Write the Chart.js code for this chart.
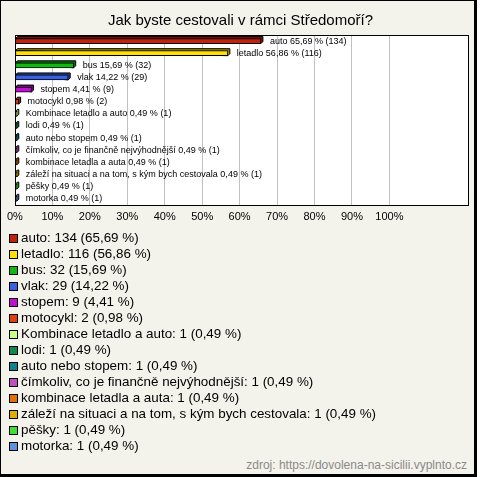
<!DOCTYPE html>
<html>
<head>
<meta charset="utf-8">
<script src="https://cdn.jsdelivr.net/npm/chart.js@4/dist/chart.umd.min.js"></script>
<style>
  html, body { margin: 0; padding: 0; background: #fff; }
  #frame {
    position: relative;
    width: 473px; height: 473px;
    background: #f3f2eb;
    border-left: 1px solid #000; border-top: 1px solid #000;
    border-right: 3px solid #000; border-bottom: 3px solid #000;
    font-family: "Liberation Sans", Arial, sans-serif;
  }
  #chartBox { position: absolute; left: 0; top: 0; width: 473px; height: 235px; }
  #legend { position: absolute; left: 8px; top: 229px; }
  .item { height: 16px; line-height: 16px; font-size: 13.4px; color: #000; white-space: nowrap; }
  .sw { display: inline-block; width: 7px; height: 7px; border: 1px solid #000; margin-right: 3px; vertical-align: -1px; }
  #source { position: absolute; right: 7px; top: 457px; font-size: 12px; color: #8a8a8a; }
</style>
</head>
<body>
<div id="frame">
  <div id="chartBox"><canvas id="barChart"></canvas></div>
  <div id="legend"></div>
  <div id="source">zdroj: https://dovolena-na-sicilii.vyplnto.cz</div>
</div>
<script>
// Data
const categories = ['auto', 'letadlo', 'bus', 'vlak', 'stopem', 'motocykl', 'Kombinace letadlo a auto', 'lodi',
    'auto nebo stopem', 'čímkoliv, co je finančně nejvýhodnější', 'kombinace letadla a auta',
    'záleží na situaci a na tom, s kým bych cestovala', 'pěšky', 'motorka'];
const counts = [134, 116, 32, 29, 9, 2, 1, 1, 1, 1, 1, 1, 1, 1];
const percents = [65.69, 56.86, 15.69, 14.22, 4.41, 0.98, 0.49, 0.49, 0.49, 0.49, 0.49, 0.49, 0.49, 0.49];
const tickValues = [0, 10, 20, 30, 40, 50, 60, 70, 80, 90, 100];

const colors = ['#c4200e', '#ffe000', '#10b810', '#3a5fe0', '#c010d0', '#e04010', '#ccff88', '#108850',
    '#10808f', '#c050c0', '#e07000', '#e0b000', '#40e030', '#6090e0'];

const fmt = v => v.toFixed(2).replace('.', ',');

function darker(hex) {
    const n = parseInt(hex.slice(1), 16);
    const r = Math.round(((n >> 16) & 255) * 0.6), g = Math.round(((n >> 8) & 255) * 0.6), b = Math.round((n & 255) * 0.6);
    return `rgb(${r},${g},${b})`;
}

// white plot background + border
const plotFrame = {
    id: 'plotFrame',
    beforeDraw(chart) {
        const { ctx, chartArea: a } = chart;
        ctx.save();
        ctx.fillStyle = '#fff';
        ctx.fillRect(a.left, a.top, a.right - a.left, a.bottom - a.top);
        ctx.restore();
    },
    afterDraw(chart) {
        const { ctx, chartArea: a } = chart;
        ctx.save();
        ctx.strokeStyle = '#000';
        ctx.lineWidth = 1;
        ctx.strokeRect(Math.round(a.left) + 0.5, Math.round(a.top) + 0.5, Math.round(a.right - a.left), Math.round(a.bottom - a.top));
        ctx.restore();
    }
};

// fake 3D rim behind the bars, and value labels after them
const bar3d = {
    id: 'bar3d',
    beforeDatasetsDraw(chart) {
        const { ctx } = chart;
        const d = 2;
        ctx.save();
        chart.getDatasetMeta(0).data.forEach((bar, i) => {
            const x0 = bar.base, x1 = bar.x, top = bar.y - bar.height / 2, bot = bar.y + bar.height / 2;
            ctx.beginPath();
            ctx.moveTo(x0, top);
            ctx.lineTo(x0 + d, top - d);
            ctx.lineTo(x1 + d, top - d);
            ctx.lineTo(x1 + d, bot - d);
            ctx.lineTo(x1, bot);
            ctx.closePath();
            ctx.fillStyle = darker(colors[i]);
            ctx.fill();
            ctx.strokeStyle = '#000';
            ctx.lineWidth = 1;
            ctx.stroke();
        });
        ctx.restore();
    },
    afterDatasetsDraw(chart) {
        const { ctx } = chart;
        ctx.save();
        ctx.font = '9px "Liberation Sans", Arial, sans-serif';
        ctx.fillStyle = '#000';
        ctx.textBaseline = 'middle';
        chart.getDatasetMeta(0).data.forEach((bar, i) => {
            ctx.fillText(`${categories[i]} ${fmt(percents[i])} % (${counts[i]})`, bar.x + 9, bar.y);
        });
        ctx.restore();
    }
};

new Chart(document.getElementById('barChart'), {
    type: 'bar',
    data: {
        labels: categories,
        datasets: [{
            data: percents,
            backgroundColor: colors,
            borderColor: '#000',
            borderWidth: 1,
            barThickness: 5,
            borderSkipped: false
        }]
    },
    options: {
        indexAxis: 'y',
        responsive: true,
        maintainAspectRatio: false,
        animation: false,
        layout: { padding: { left: 10, right: 4, top: 0, bottom: 6 } },
        plugins: {
            legend: { display: false },
            tooltip: { enabled: false },
            title: {
                display: true,
                text: 'Jak byste cestovali v rámci Středomoří?',
                color: '#000',
                font: { family: '"Liberation Sans", Arial, sans-serif', size: 15, weight: 'normal' },
                padding: { top: 11, bottom: 5 }
            }
        },
        scales: {
            x: {
                min: 0,
                max: 121,
                afterBuildTicks: axis => { axis.ticks = tickValues.map(v => ({ value: v })).concat([{ value: 121 }]); },
                ticks: {
                    padding: 6,
                    maxRotation: 0,
                    color: '#000',
                    font: { family: '"Liberation Sans", Arial, sans-serif', size: 11 },
                    callback: v => (v <= 100 ? v + '%' : '')
                },
                grid: {
                    drawTicks: false,
                    color: c => (c.tick && c.tick.value > 0 && c.tick.value <= 100 ? '#c0c0c0' : 'rgba(0,0,0,0)')
                },
                border: { display: false }
            },
            y: { display: false }
        }
    },
    plugins: [plotFrame, bar3d]
});

// legend list
document.getElementById('legend').innerHTML = categories.map((c, i) =>
    `<div class="item"><span class="sw" style="background:${colors[i]}"></span>${c}: ${counts[i]} (${fmt(percents[i])} %)</div>`
).join('');
</script>
</body>
</html>
